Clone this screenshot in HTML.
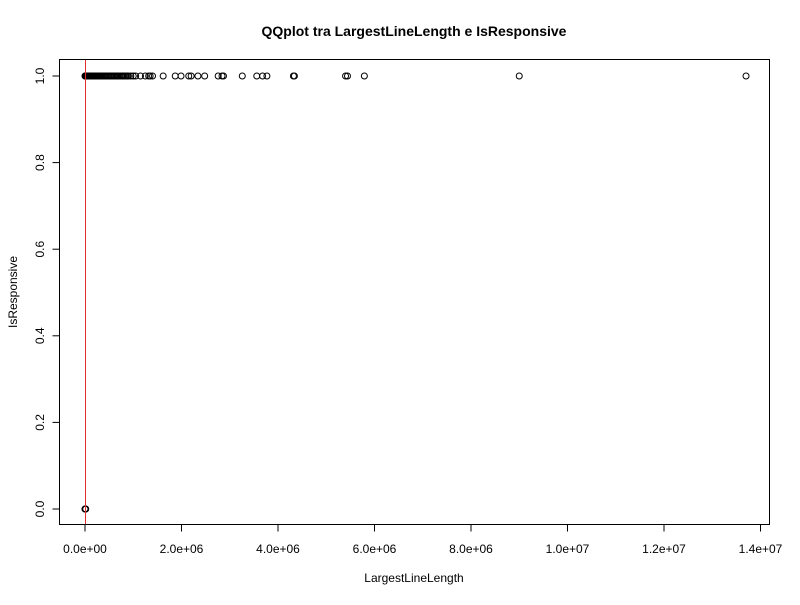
<!DOCTYPE html>
<html><head><meta charset="utf-8"><style>
body{margin:0;background:#fff}
svg text{font-family:"Liberation Sans",Arial,sans-serif;fill:#000}
</style></head><body>
<svg id="chart" width="800" height="600" xmlns="http://www.w3.org/2000/svg">
<rect width="800" height="600" fill="#fff"/>
<text x="414" y="36" font-size="14" font-weight="bold" text-anchor="middle">QQplot tra LargestLineLength e IsResponsive</text>
<rect x="59.5" y="59.5" width="710" height="465" fill="none" stroke="#000" stroke-width="1"/>
<g id="xaxis"></g>
<g id="yaxis"></g>
<text x="414" y="582" font-size="12" text-anchor="middle">LargestLineLength</text>
<text transform="translate(17,292) rotate(-90)" font-size="12" text-anchor="middle">IsResponsive</text>
<g id="pts"></g>
</svg>
<script>
const xTicks=[0,2e6,4e6,6e6,8e6,1e7,1.2e7,1.4e7];
const xTickLabels=["0.0e+00","2.0e+06","4.0e+06","6.0e+06","8.0e+06","1.0e+07","1.2e+07","1.4e+07"];
const yTicks=[0,0.2,0.4,0.6,0.8,1.0];
const yTickLabels=["0.0","0.2","0.4","0.6","0.8","1.0"];
const xOnes=[0,5000,10000,15000,20000,30000,40000,50000,60000,70000,80000,90000,100000,115000,130000,145000,160000,180000,200000,220000,240000,260000,280000,300000,320000,340000,360000,380000,400000,425000,450000,475000,500000,525000,550000,575000,600000,625000,650000,675000,700000,730000,760000,780000,800000,825000,850000,875000,900000,950000,1000000,1050000,1150000,1250000,1320000,1350000,1400000,1620000,1870000,1990000,2150000,2200000,2340000,2480000,2760000,2840000,2870000,3260000,3560000,3680000,3770000,4320000,4340000,5400000,5440000,5790000,9000000,13700000];
const yOnes=xOnes.map(()=>1);
const xZeros=[0,2000,5000,8000,12000,15000];
const yZeros=xZeros.map(()=>0);
const qqLineX=[0];
const X=v=>85+v*(675.5/1.4e7);
const Y=v=>509-v*433;
const ns="http://www.w3.org/2000/svg";
function mk(t,a,p){const e=document.createElementNS(ns,t);for(const k in a)e.setAttribute(k,a[k]);p.appendChild(e);return e;}
const xa=document.getElementById('xaxis');
mk('line',{x1:X(0),x2:X(1.4e7),y1:524.5,y2:524.5,stroke:'#000'},xa);
xTicks.forEach((t,i)=>{
 const l=mk('line',{x1:X(t),x2:X(t),y1:524.5,y2:531.5,stroke:'#000'},xa);
 
 
 const tx=mk('text',{x:X(t),y:553,'font-size':12,'text-anchor':'middle'},xa);
 tx.textContent=xTickLabels[i];
 
 
});
const ya=document.getElementById('yaxis');
mk('line',{x1:59.5,x2:59.5,y1:Y(0),y2:Y(1),stroke:'#000'},ya);
yTicks.forEach((t,i)=>{
 const l=mk('line',{x1:52.5,x2:59.5,y1:Y(t),y2:Y(t),stroke:'#000'},ya);
 
 
 const tx=mk('text',{transform:`translate(44,${Y(t)}) rotate(-90)`,'font-size':12,'text-anchor':'middle'},ya);
 tx.textContent=yTickLabels[i];
 
 
});
const pg=document.getElementById('pts');
function pt(x,y){
 const c=mk('circle',{cx:X(x),cy:Y(y),r:3,fill:'none',stroke:'#000','stroke-width':1},pg);
 
 
}
xOnes.forEach((x,i)=>pt(x,yOnes[i]));
xZeros.forEach((x,i)=>pt(x,yZeros[i]));
qqLineX.forEach(v=>{
 const l=mk('line',{x1:X(v)+0.5,x2:X(v)+0.5,y1:60,y2:524,stroke:'#e03030','stroke-width':1},pg);
 
 
});
</script>
</body></html>
